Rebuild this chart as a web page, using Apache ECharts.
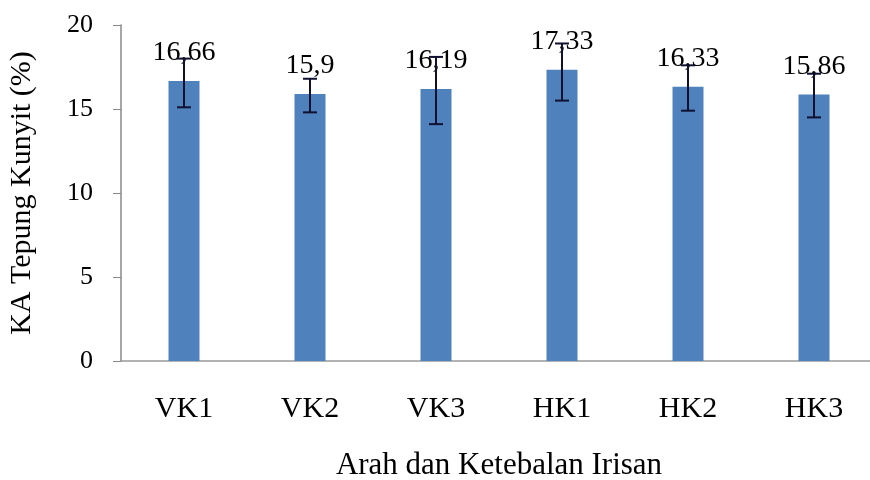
<!DOCTYPE html>
<html>
<head>
<meta charset="utf-8">
<script src="https://cdn.jsdelivr.net/npm/echarts@6/dist/echarts.min.js"></script>
<style>
  html, body { margin: 0; padding: 0; background: #fff; }
  #main { width: 870px; height: 480px; }
</style>
</head>
<body>
<div id="main"></div>
<script>
const categories = ['VK1', 'VK2', 'VK3', 'HK1', 'HK2', 'HK3']
const values = [16.66, 15.9, 16.19, 17.33, 16.33, 15.86]
const labels = ['16,66', '15,9', '16,19', '17,33', '16,33', '15,86']
const errLow = [15.1, 14.8, 14.1, 15.5, 14.9, 14.5]
const errHigh = [18.0, 16.8, 18.1, 18.9, 17.6, 17.1]

const chartDom = document.getElementById('main')
const myChart = echarts.init(chartDom)
const font = 'Liberation Serif'

myChart.setOption({
  animation: false,
  textStyle: { fontFamily: font },
  grid: {
    left: 121,
    top: 25,
    width: 756,
    height: 336,
    outerBoundsMode: 'none'
  },
  xAxis: {
    type: 'category',
    data: categories,
    name: 'Arah dan Ketebalan Irisan',
    nameLocation: 'middle',
    nameGap: 89,
    nameTextStyle: { color: '#000', fontSize: 31, fontFamily: font },
    axisLine: { lineStyle: { color: '#999', width: 1.5 } },
    axisTick: { show: false },
    axisLabel: { color: '#000', fontSize: 30, fontFamily: font, margin: 33 }
  },
  yAxis: {
    type: 'value',
    min: 0,
    max: 20,
    interval: 5,
    name: 'KA Tepung Kunyit (%)',
    nameLocation: 'middle',
    nameGap: 84,
    nameTextStyle: { color: '#000', fontSize: 30, fontFamily: font },
    axisLine: { show: true, lineStyle: { color: '#888', width: 1.5 } },
    axisTick: { show: true, length: 8, lineStyle: { color: '#888' } },
    splitLine: { show: false },
    axisLabel: { color: '#000', fontSize: 26, fontFamily: font, margin: 28 }
  },
  series: [
    {
      type: 'bar',
      data: values,
      barWidth: 31,
      itemStyle: { color: '#4f81bd' },
      label: {
        show: true,
        position: 'top',
        distance: 14,
        color: '#000',
        fontSize: 28,
        fontFamily: font,
        formatter: p => labels[p.dataIndex]
      }
    },
    {
      type: 'custom',
      data: categories.map((c, i) => [i, errLow[i], errHigh[i]]),
      z: 10,
      renderItem: (params, api) => {
        const lo = api.coord([api.value(0), api.value(1)])
        const hi = api.coord([api.value(0), api.value(2)])
        const cap = 7
        const style = { stroke: '#101030', lineWidth: 2 }
        return {
          type: 'group',
          children: [
            { type: 'line', shape: { x1: hi[0], y1: hi[1], x2: lo[0], y2: lo[1] }, style },
            { type: 'line', shape: { x1: hi[0] - cap, y1: hi[1], x2: hi[0] + cap, y2: hi[1] }, style },
            { type: 'line', shape: { x1: lo[0] - cap, y1: lo[1], x2: lo[0] + cap, y2: lo[1] }, style }
          ]
        }
      }
    }
  ]
})
</script>
</body>
</html>
